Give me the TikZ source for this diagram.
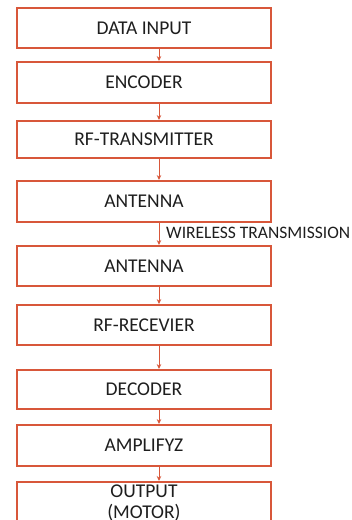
\documentclass[tikz,border=0pt]{standalone}
\usepackage{fontspec}
\setmainfont{Carlito}
\usetikzlibrary{arrows.meta}
\definecolor{boxred}{HTML}{D8573A}
\definecolor{txt}{HTML}{1E1E1E}
\begin{document}
\begin{tikzpicture}[x=1pt,y=-1pt,
  blk/.style={draw=boxred, line width=1.9pt, fill=white, minimum width=254pt, inner sep=0pt, text=txt, font=\fontsize{19.5}{21}\selectfont},
  conn/.style={draw=boxred, line width=0.9pt, -{Stealth[length=5pt,width=4.5pt]}}]
\useasboundingbox (0,0) rectangle (352,520);
\clip (0,0) rectangle (352,520);
\coordinate (ax) at (159,0);
\node[blk, minimum height=40pt] (b1) at (144,28) {DATA INPUT};
\node[blk, minimum height=41pt] (b2) at (144,82.5) {ENCODER};
\node[blk, minimum height=37pt] (b3) at (144,139.5) {RF-TRANSMITTER};
\node[blk, minimum height=41pt] (b4) at (144,201.5) {ANTENNA};
\node[blk, minimum height=40pt] (b5) at (144,266) {ANTENNA};
\node[blk, minimum height=40pt] (b6) at (144,325) {RF-RECEVIER};
\node[blk, minimum height=39pt] (b7) at (144,389.5) {DECODER};
\node[blk, minimum height=41pt] (b8) at (144,445.5) {AMPLIFYZ};
\node[blk, minimum height=60pt, anchor=north] (b9) at (144,481) {};
\node[text=txt, font=\fontsize{19.5}{21}\selectfont, align=center, anchor=north] (b9t) at (144,481) {OUTPUT\\(MOTOR)};
\draw[conn] (b1.south -| ax) -- (b2.north -| ax);
\draw[conn] (b2.south -| ax) -- (b3.north -| ax);
\draw[conn] (b3.south -| ax) -- (b4.north -| ax);
\draw[conn] (b4.south -| ax) -- (b5.north -| ax);
\draw[conn] (b5.south -| ax) -- (b6.north -| ax);
\draw[conn] (b6.south -| ax) -- (b7.north -| ax);
\draw[conn] (b7.south -| ax) -- (b8.north -| ax);
\draw[conn] (b8.south -| ax) -- (b9.north -| ax);
\node[text=txt, font=\fontsize{17.5}{19}\selectfont, anchor=west, inner sep=0pt] (wl) at (166,233) {WIRELESS TRANSMISSION};
\end{tikzpicture}
\end{document}
